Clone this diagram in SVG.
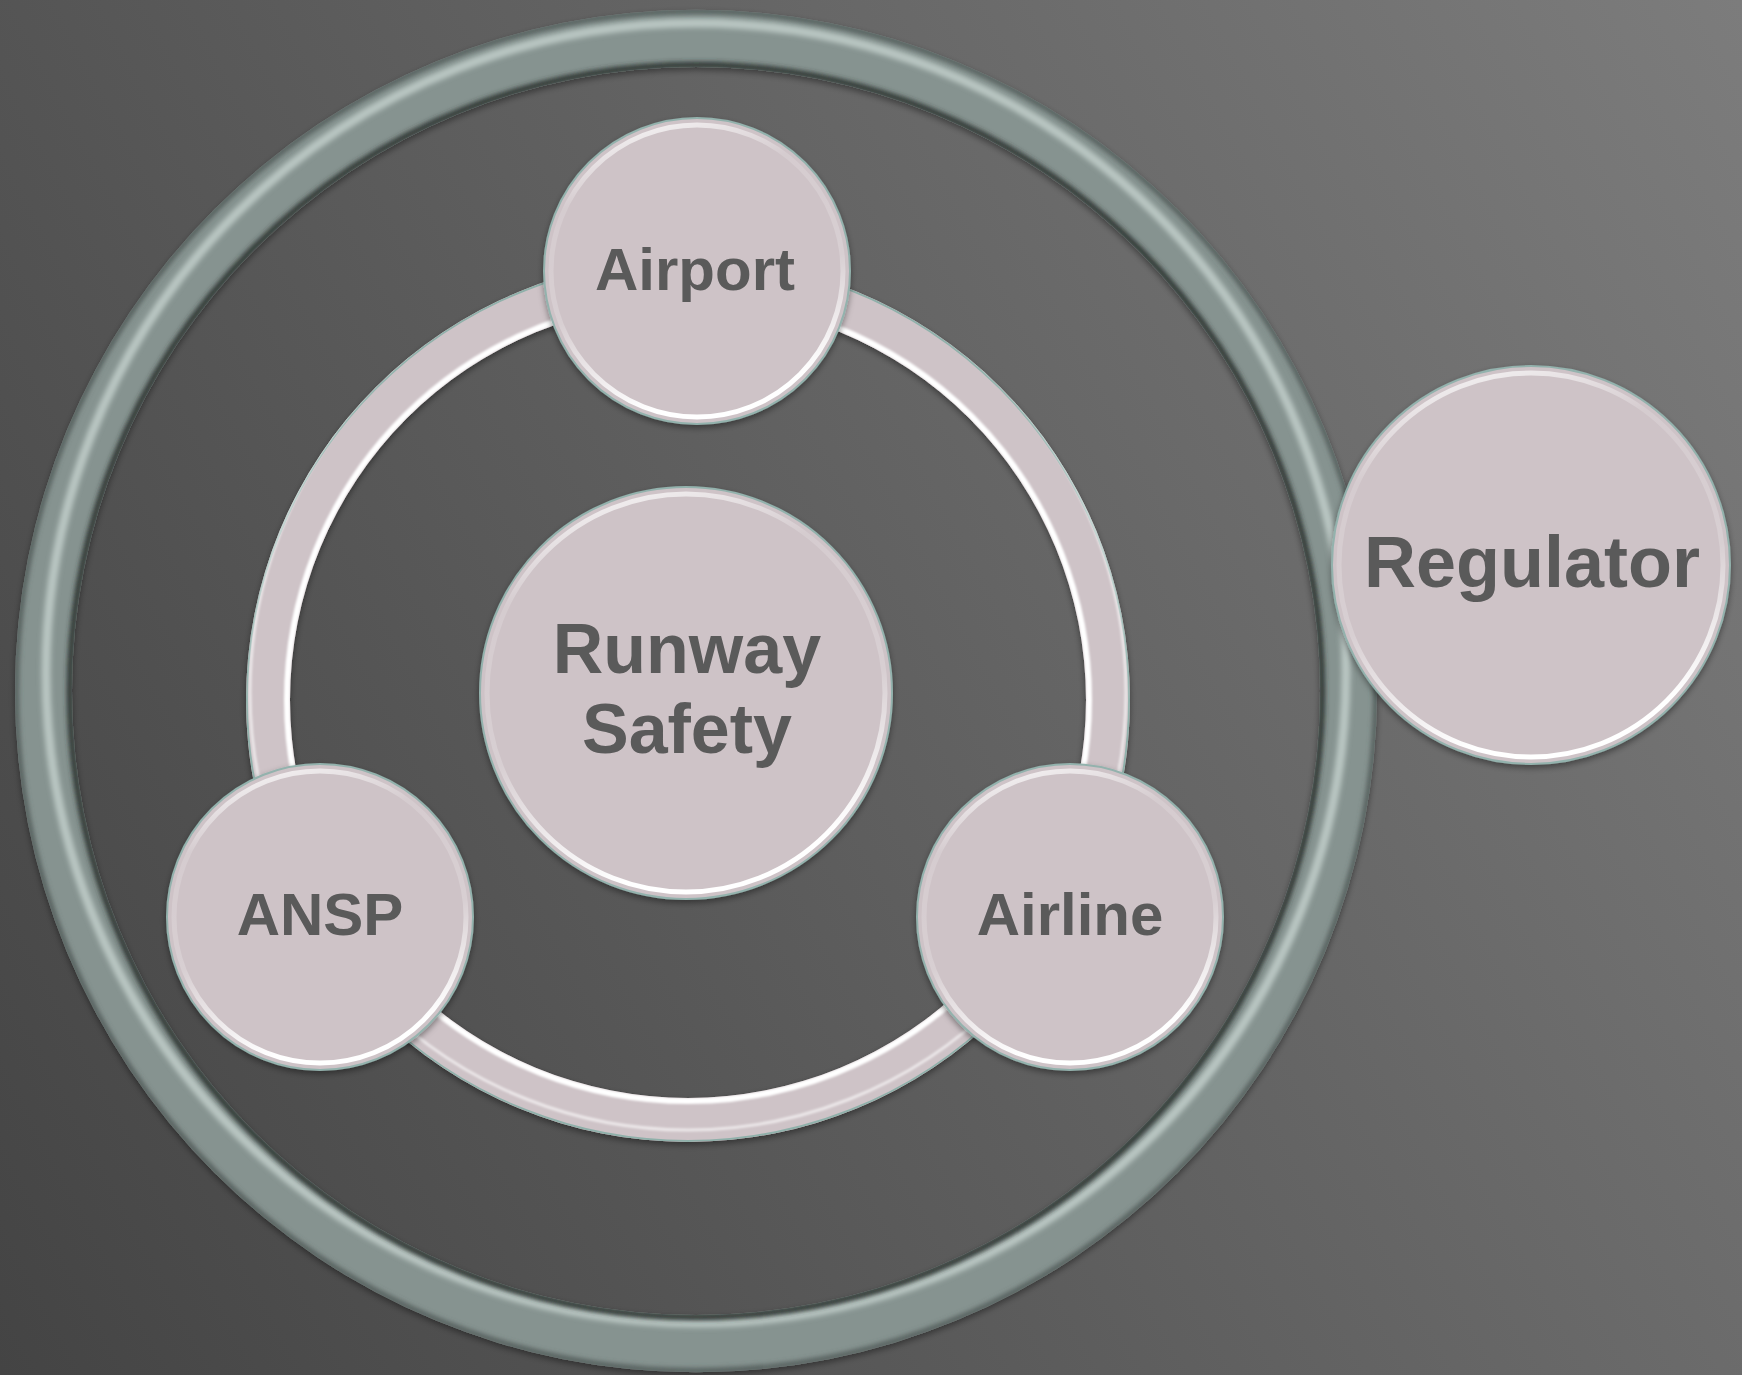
<svg xmlns="http://www.w3.org/2000/svg" width="1742" height="1375" viewBox="0 0 1742 1375">
<defs>
<linearGradient id="bg" gradientUnits="userSpaceOnUse" x1="0" y1="1375" x2="1925" y2="341">
<stop offset="0" stop-color="#444444"/><stop offset="1" stop-color="#7c7c7c"/>
</linearGradient>
<linearGradient id="rim" x1="0" y1="0" x2="0.25" y2="1">
<stop offset="0" stop-color="#ffffff" stop-opacity="0.95"/>
<stop offset="0.28" stop-color="#ffffff" stop-opacity="0.15"/>
<stop offset="0.65" stop-color="#ffffff" stop-opacity="0.2"/>
<stop offset="1" stop-color="#ffffff" stop-opacity="1"/>
</linearGradient>
<filter id="sh" x="-20%" y="-20%" width="140%" height="140%">
<feDropShadow dx="0" dy="3" stdDeviation="3" flood-color="#000" flood-opacity="0.4"/>
</filter>
<filter id="blur" x="-10%" y="-10%" width="120%" height="120%"><feGaussianBlur stdDeviation="2.5"/></filter>
<filter id="blur1" x="-10%" y="-10%" width="120%" height="120%"><feGaussianBlur stdDeviation="1.2"/></filter>
<clipPath id="outerBand">
<path clip-rule="evenodd" d="M15,691 a681,681 0 1,0 1362,0 a681,681 0 1,0 -1362,0 Z M72,691 a624,624 0 1,0 1248,0 a624,624 0 1,0 -1248,0 Z"/>
</clipPath>
<clipPath id="innerBand">
<path clip-rule="evenodd" d="M246,700 a442,442 0 1,0 884,0 a442,442 0 1,0 -884,0 Z M290,700 a398,398 0 1,0 796,0 a398,398 0 1,0 -796,0 Z"/>
</clipPath>
</defs>
<style>
.body{fill:#cec3c7;stroke:#93b2ad;stroke-width:2}
.rimhl{fill:none;stroke:url(#rim);stroke-width:5}
.label{font-family:"Liberation Sans",Arial,sans-serif;font-weight:bold;fill:#5a5a5a;text-anchor:middle}
</style>
<rect x="0" y="0" width="1742" height="1375" fill="url(#bg)"/>

<g id="connectors">
  <g id="outer-ring" filter="url(#sh)">
    <g clip-path="url(#outerBand)">
      <rect x="0" y="0" width="1742" height="1375" fill="#869390"/>
      <circle cx="696" cy="673" r="650" fill="none" stroke="#b9c6c2" stroke-width="9" filter="url(#blur)"/>
      <circle cx="696" cy="691" r="626" fill="none" stroke="#2b302f" stroke-width="6" filter="url(#blur)"/>
      <circle cx="696" cy="691" r="680" fill="none" stroke="#4f5957" stroke-width="5" filter="url(#blur)"/>
    </g>
  </g>
  <g id="inner-ring" filter="url(#sh)">
    <g clip-path="url(#innerBand)">
      <rect x="0" y="0" width="1742" height="1375" fill="#cec3c7"/>
      <circle cx="688" cy="700" r="401" fill="none" stroke="#ffffff" stroke-width="6" filter="url(#blur1)"/>
      <circle cx="688" cy="700" r="441" fill="none" stroke="#8fb0aa" stroke-width="2"/>
      <circle cx="688" cy="692" r="438" fill="none" stroke="#ffffff" stroke-opacity="0.6" stroke-width="3" filter="url(#blur1)"/>
    </g>
  </g>
</g>

<g id="node-runway-safety" filter="url(#sh)">
  <circle class="body" cx="686" cy="693" r="206"/>
  <circle class="rimhl" cx="686" cy="693" r="199"/>
  <text class="label" x="687" y="673" font-size="70">Runway</text>
  <text class="label" x="687" y="753" font-size="70">Safety</text>
</g>

<g id="node-airport" filter="url(#sh)">
  <circle class="body" cx="697" cy="271" r="153"/>
  <circle class="rimhl" cx="697" cy="271" r="146"/>
  <text class="label" x="695" y="290" font-size="60">Airport</text>
</g>

<g id="node-ansp" filter="url(#sh)">
  <circle class="body" cx="320" cy="917" r="153"/>
  <circle class="rimhl" cx="320" cy="917" r="146"/>
  <text class="label" x="320" y="935" font-size="60">ANSP</text>
</g>

<g id="node-airline" filter="url(#sh)">
  <circle class="body" cx="1070" cy="917" r="153"/>
  <circle class="rimhl" cx="1070" cy="917" r="146"/>
  <text class="label" x="1070" y="935" font-size="60">Airline</text>
</g>

<g id="node-regulator" filter="url(#sh)">
  <circle class="body" cx="1531" cy="565" r="199"/>
  <circle class="rimhl" cx="1531" cy="565" r="192"/>
  <text class="label" x="1532" y="587" font-size="72">Regulator</text>
</g>
</svg>
